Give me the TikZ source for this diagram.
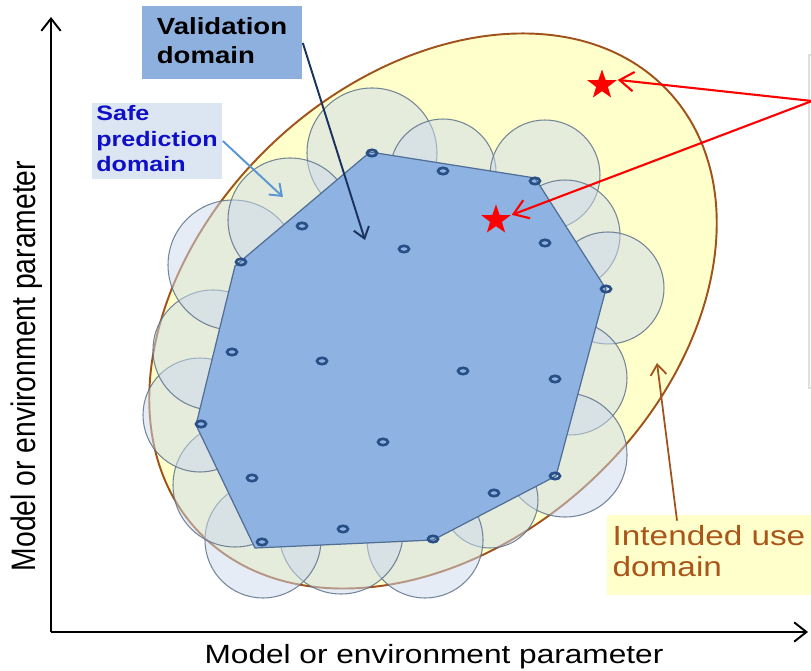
\documentclass[tikz,border=0pt]{standalone}
\usepackage{fontspec}
\setmainfont{Liberation Sans}
\usepackage{graphicx}
\usetikzlibrary{arrows.meta,shapes.geometric}

\definecolor{intfill}{RGB}{255,255,204}
\definecolor{intline}{RGB}{160,82,28}
\definecolor{inttext}{RGB}{170,85,25}
\definecolor{safefill}{RGB}{205,218,236}
\definecolor{safeline}{RGB}{95,115,138}
\definecolor{validfill}{RGB}{142,178,225}
\definecolor{validline}{RGB}{80,110,150}
\definecolor{ptcol}{RGB}{40,80,135}
\definecolor{navy}{RGB}{25,50,95}
\definecolor{safearrow}{RGB}{90,150,210}
\definecolor{safetext}{RGB}{15,15,200}
\definecolor{boxsafe}{RGB}{220,230,242}
\definecolor{boxvalid}{RGB}{142,176,222}

\begin{document}
\begin{tikzpicture}[x=0.02cm,y=-0.02cm,
  intended/.style={fill=intfill,draw=intline,line width=1.1pt},
  safe/.style={fill=safefill,fill opacity=0.5,draw=safeline,draw opacity=0.85,line width=0.6pt},
  valid/.style={fill=validfill,draw=validline,line width=0.7pt},
  pt/.style={draw=ptcol,line width=1.5pt},
  axis/.style={-{Straight Barb[length=7pt,width=11pt]},line width=1.1pt},
  redstar/.style={star,star points=5,star point ratio=2.5,fill=red,minimum size=0.62cm,inner sep=0pt},
  labelbox/.style={inner sep=0pt,minimum height=1.46cm}]

\useasboundingbox (0,0) rectangle (811,671);
\clip (0,0) rectangle (811,671);

% intended use domain
\draw[intended,rotate around={43:(433,311)}] (433,311) ellipse [x radius=322,y radius=232];

% safe prediction circles
\draw[safe] (372,153) circle [radius=65];
\draw[safe] (443,172) circle [radius=53];
\draw[safe] (545,175) circle [radius=55];
\draw[safe] (565,235) circle [radius=55];
\draw[safe] (608,288) circle [radius=56];
\draw[safe] (570,378) circle [radius=57];
\draw[safe] (565,455) circle [radius=62];
\draw[safe] (490,500) circle [radius=48];
\draw[safe] (425,540) circle [radius=58];
\draw[safe] (341,532) circle [radius=62];
\draw[safe] (263,540) circle [radius=58];
\draw[safe] (235,485) circle [radius=62];
\draw[safe] (200,415) circle [radius=57];
\draw[safe] (213,350) circle [radius=60];
\draw[safe] (233,265) circle [radius=65];
\draw[safe] (290,220) circle [radius=62];

% validation domain
\draw[valid] (370,152) -- (535,178) -- (606,289) -- (556,476) -- (433,540)
  -- (255,548) -- (196,425) -- (235,266) -- cycle;

% test points
\draw[pt] (372,153) ellipse [x radius=5,y radius=3.2];
\draw[pt] (443,171) ellipse [x radius=5,y radius=3.2];
\draw[pt] (535,181) ellipse [x radius=5,y radius=3.2];
\draw[pt] (302,226) ellipse [x radius=5,y radius=3.2];
\draw[pt] (404,249) ellipse [x radius=5,y radius=3.2];
\draw[pt] (545,243) ellipse [x radius=5,y radius=3.2];
\draw[pt] (241,262) ellipse [x radius=5,y radius=3.2];
\draw[pt] (606,289) ellipse [x radius=5,y radius=3.2];
\draw[pt] (232,352) ellipse [x radius=5,y radius=3.2];
\draw[pt] (322,361) ellipse [x radius=5,y radius=3.2];
\draw[pt] (463,371) ellipse [x radius=5,y radius=3.2];
\draw[pt] (555,379) ellipse [x radius=5,y radius=3.2];
\draw[pt] (201,424) ellipse [x radius=5,y radius=3.2];
\draw[pt] (383,442) ellipse [x radius=5,y radius=3.2];
\draw[pt] (252,478) ellipse [x radius=5,y radius=3.2];
\draw[pt] (494,493) ellipse [x radius=5,y radius=3.2];
\draw[pt] (555,476) ellipse [x radius=5,y radius=3.2];
\draw[pt] (343,529) ellipse [x radius=5,y radius=3.2];
\draw[pt] (433,539) ellipse [x radius=5,y radius=3.2];
\draw[pt] (262,542) ellipse [x radius=5,y radius=3.2];

% Nodes
\node[redstar] (star1) at (602,85) {};
\node[redstar] (star2) at (496,220) {};

\node[labelbox,fill=boxvalid,minimum width=3.22cm,font=\fontsize{13.3}{17}\selectfont\bfseries] (valbox) at (222,43)
  {\scalebox{1.18}[1]{\begin{tabular}{@{}l@{}}Validation\\domain\end{tabular}}};
\node[labelbox,fill=boxsafe,minimum width=2.62cm,text=safetext,font=\fontsize{11.9}{14.4}\selectfont\bfseries] (safebox) at (157,141)
  {\scalebox{1.2}[1]{\begin{tabular}{@{}l@{}}Safe\\prediction\\domain\end{tabular}}};
\node[labelbox,fill=intfill,minimum width=4.08cm,minimum height=1.6cm,text=inttext,font=\fontsize{15.8}{17.6}\selectfont] (intbox) at (709,555)
  {\scalebox{1.2}[1]{\begin{tabular}{@{}l@{}}Intended use\\domain\end{tabular}}};

\node[inner sep=0pt,anchor=base,font=\fontsize{15}{18}\selectfont] (xlabel) at (434,663)
  {\scalebox{1.2}[1]{Model or environment parameter}};
\node[inner sep=0pt,font=\fontsize{16.1}{19}\selectfont] (ylabel) at (27,366)
  {\scalebox{1.2}[1]{\rotatebox{90}{Model or environment parameter}}};

\coordinate (origin) at (51,632);
\coordinate (ytop) at (51,17);
\coordinate (xend) at (808,632);
\coordinate (valtip) at (365,240);
\coordinate (safetip) at (283,197);
\coordinate (inttip) at (657,363);
\coordinate (callout) at (812,101);

% cut-off callout frame
\draw[black!12,line width=1.5pt] (809,55) rectangle (900,388);

%arcs
\draw[axis] (origin) -- (ytop);
\draw[axis] (origin) -- (xend);
\draw[navy,line width=1.1pt,-{Straight Barb[length=6pt,width=9pt]}] (valbox.east) -- (valtip);
\draw[safearrow,line width=1.1pt,-{Straight Barb[length=6pt,width=9pt]}] (safebox.east) -- (safetip);
\draw[intline,line width=1pt,-{Straight Barb[length=6pt,width=9pt]}] ([xshift=-0.64cm,yshift=-0.12cm]intbox.north) -- (inttip);
\draw[red,line width=1.2pt,-{Straight Barb[length=8pt,width=11pt]}] (callout) -- (star1.outer point 5);
\draw[red,line width=1.2pt,-{Straight Barb[length=8pt,width=11pt]}] (callout) -- (star2.outer point 5);
\end{tikzpicture}
\end{document}
